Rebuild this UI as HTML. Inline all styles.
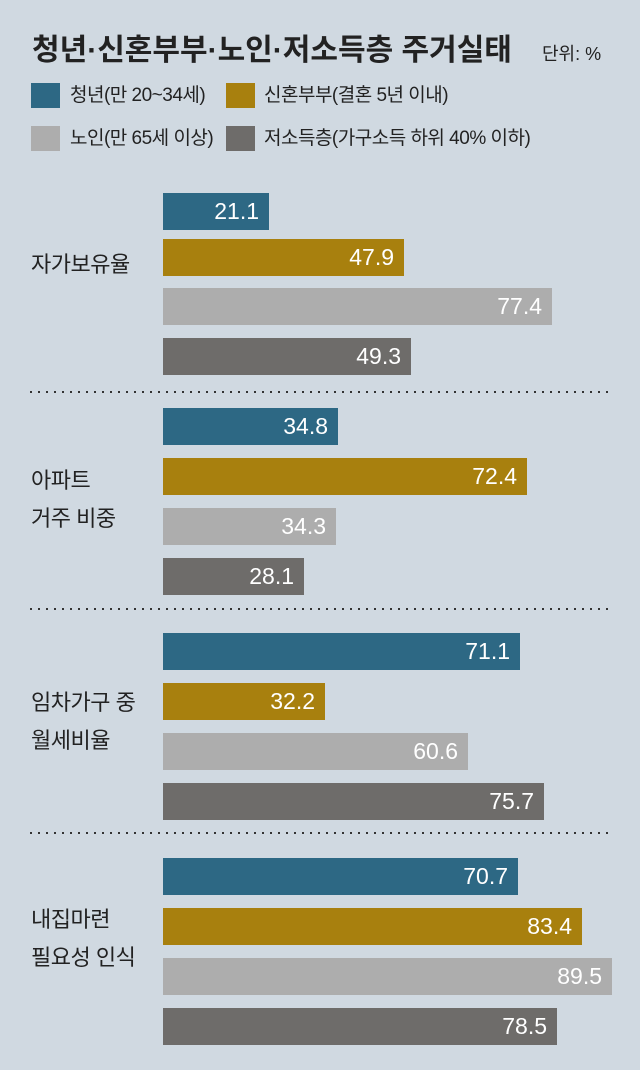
<!DOCTYPE html>
<html><head><meta charset="utf-8"><style>
body{margin:0;width:640px;height:1070px;background:#d0d9e1;position:relative;overflow:hidden;font-family:"Liberation Sans","Noto Sans CJK KR",sans-serif;color:#222}
.a{position:absolute;white-space:nowrap}
.b{position:absolute;left:163px;height:37px;color:#fff;font-family:"Liberation Sans Narrow","Liberation Sans","Noto Sans CJK KR",sans-serif;font-size:23px;line-height:37px;text-align:right;box-sizing:border-box;padding-right:10px}
.c1{background:#2d6884}.c2{background:#a8800e}.c3{background:#adadad}.c4{background:#6e6c6a}
.sq{position:absolute;width:29px;height:25px}
.lg{position:absolute;font-size:19px;line-height:25px;letter-spacing:-0.5px}
.dot{position:absolute;left:30px;width:582px;height:2px;background:repeating-linear-gradient(90deg,#333 0 2px,transparent 2px 8px)}
.lab{position:absolute;left:31px;font-size:22px;line-height:38px;letter-spacing:-0.5px}
</style></head><body>
<div class="a" style="left:32px;top:25px;font-size:30px;font-weight:bold">청년·신혼부부·노인·저소득층 주거실태</div>
<div class="a" style="left:542px;top:40px;font-size:18px">단위: %</div>
<div class="sq c1" style="left:31px;top:83px"></div><div class="lg" style="left:70px;top:83px">청년(만 20~34세)</div>
<div class="sq c2" style="left:226px;top:83px"></div><div class="lg" style="left:264px;top:83px">신혼부부(결혼 5년 이내)</div>
<div class="sq c3" style="left:31px;top:126px"></div><div class="lg" style="left:70px;top:126px">노인(만 65세 이상)</div>
<div class="sq c4" style="left:226px;top:126px"></div><div class="lg" style="left:264px;top:126px">저소득층(가구소득 하위 40% 이하)</div>

<div class="lab" style="top:246px">자가보유율</div>
<div class="b c1" style="top:193px;width:106px">21.1</div>
<div class="b c2" style="top:239px;width:241px">47.9</div>
<div class="b c3" style="top:288px;width:389px">77.4</div>
<div class="b c4" style="top:338px;width:248px">49.3</div>
<div class="dot" style="top:391px"></div>

<div class="lab" style="top:462px">아파트<br>거주 비중</div>
<div class="b c1" style="top:408px;width:175px">34.8</div>
<div class="b c2" style="top:458px;width:364px">72.4</div>
<div class="b c3" style="top:508px;width:173px">34.3</div>
<div class="b c4" style="top:558px;width:141px">28.1</div>
<div class="dot" style="top:608px"></div>

<div class="lab" style="top:684px">임차가구 중<br>월세비율</div>
<div class="b c1" style="top:633px;width:357px">71.1</div>
<div class="b c2" style="top:683px;width:162px">32.2</div>
<div class="b c3" style="top:733px;width:305px">60.6</div>
<div class="b c4" style="top:783px;width:381px">75.7</div>
<div class="dot" style="top:832px"></div>

<div class="lab" style="top:901px">내집마련<br>필요성 인식</div>
<div class="b c1" style="top:858px;width:355px">70.7</div>
<div class="b c2" style="top:908px;width:419px">83.4</div>
<div class="b c3" style="top:958px;width:449px">89.5</div>
<div class="b c4" style="top:1008px;width:394px">78.5</div>
</body></html>
